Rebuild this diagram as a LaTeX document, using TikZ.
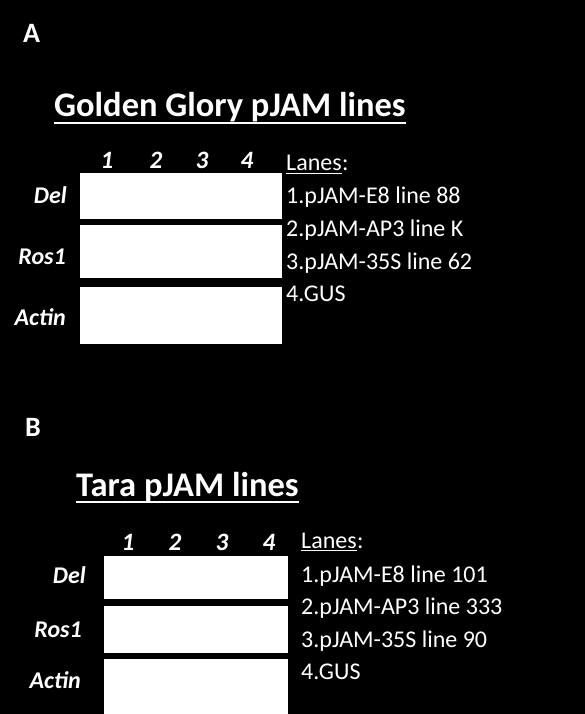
\documentclass[tikz,border=0pt]{standalone}
\usepackage{fontspec}
\setmainfont{Carlito}
\begin{document}
\begin{tikzpicture}[x=1pt,y=-1pt,
  lbl/.style={text=white,font=\bfseries\itshape\fontsize{24}{24}\selectfont,inner sep=0pt,anchor=base east},
  num/.style={text=white,font=\bfseries\itshape\fontsize{25}{25}\selectfont,inner sep=0pt,anchor=base},
  lane/.style={text=white,font=\fontsize{24}{24}\selectfont,inner sep=0pt,anchor=base west},
  ttl/.style={text=white,font=\bfseries\fontsize{34.5}{34.5}\selectfont,inner sep=0pt,anchor=base west},
  panel/.style={text=white,font=\bfseries\fontsize{28}{28}\selectfont,inner sep=0pt,anchor=base west},
  blot/.style={fill=white,draw=none,inner sep=0pt,anchor=north west},
  uline/.style={draw=white,line width=2pt}]
\fill[black] (0,0) rectangle (585,714);
\useasboundingbox (0,0) rectangle (585,714);

% ---------- Panel A ----------
\node[panel] (pA) at (23,43) {A};
\node[ttl] (tA) at (54,117) {Golden Glory pJAM lines};
\draw[uline] ([yshift=-6pt]tA.base west) -- ([yshift=-6pt]tA.base east);

\node[num] (nA1) at (107,168) {1};
\node[num] (nA2) at (156,168) {2};
\node[num] (nA3) at (202,168) {3};
\node[num] (nA4) at (247,168) {4};

\node[blot,minimum width=202pt,minimum height=46pt] (bA1) at (80,173) {};
\node[blot,minimum width=202pt,minimum height=53pt] (bA2) at (80,225) {};
\node[blot,minimum width=202pt,minimum height=57pt] (bA3) at (80,287) {};

\node[lbl] (rA1) at (67,203) {Del};
\node[lbl] (rA2) at (66,264) {Ros1};
\node[lbl] (rA3) at (66,325) {Actin};

\node[lane] (lA0) at (286,171) {Lanes};
\node[lane] (cA0) at (lA0.base east) {:};
\draw[draw=white,line width=1.3pt] ([yshift=-2.5pt]lA0.base west) -- ([yshift=-2.5pt]lA0.base east);
\node[lane] (lA1) at (286,204) {1.pJAM-E8 line 88};
\node[lane] (lA2) at (286,236) {2.pJAM-AP3 line K};
\node[lane] (lA3) at (286,269) {3.pJAM-35S line 62};
\node[lane] (lA4) at (286,301) {4.GUS};

% ---------- Panel B ----------
\node[panel] (pB) at (25,436) {B};
\node[ttl] (tB) at (76,496) {Tara pJAM lines};
\draw[uline] ([yshift=-6pt]tB.base west) -- ([yshift=-6pt]tB.base east);

\node[num] (nB1) at (128,550) {1};
\node[num] (nB2) at (175,550) {2};
\node[num] (nB3) at (222,550) {3};
\node[num] (nB4) at (269,550) {4};

\node[blot,minimum width=184pt,minimum height=43pt] (bB1) at (104,556) {};
\node[blot,minimum width=184pt,minimum height=47pt] (bB2) at (104,606) {};
\node[blot,minimum width=184pt,minimum height=57pt] (bB3) at (104,659) {};

\node[lbl] (rB1) at (86,583) {Del};
\node[lbl] (rB2) at (82,637) {Ros1};
\node[lbl] (rB3) at (81,688) {Actin};

\node[lane] (lB0) at (301,548) {Lanes};
\node[lane] (cB0) at (lB0.base east) {:};
\draw[draw=white,line width=1.3pt] ([yshift=-2.5pt]lB0.base west) -- ([yshift=-2.5pt]lB0.base east);
\node[lane] (lB1) at (301,582) {1.pJAM-E8 line 101};
\node[lane] (lB2) at (301,614) {2.pJAM-AP3 line 333};
\node[lane] (lB3) at (301,647) {3.pJAM-35S line 90};
\node[lane] (lB4) at (301,679) {4.GUS};
\end{tikzpicture}
\end{document}
